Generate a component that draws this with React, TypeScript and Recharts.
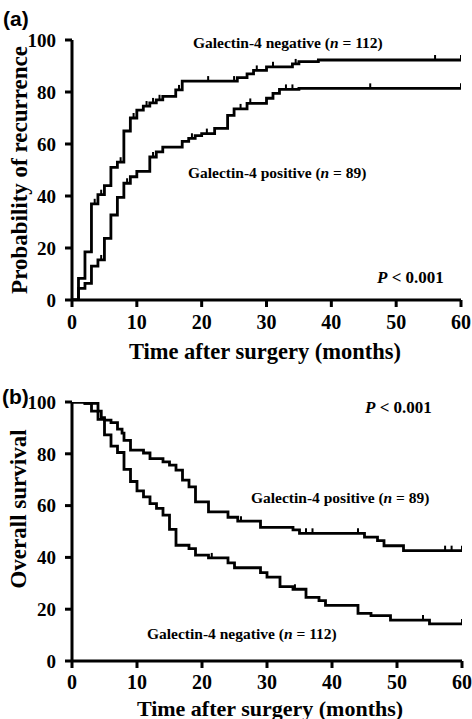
import React from 'react';
import { ComposedChart, Line, Scatter, XAxis, YAxis } from 'recharts';

// shared axis ticks
const monthTicks = [0, 10, 20, 30, 40, 50, 60];
const percentTicks = [0, 20, 40, 60, 80, 100];

// (a) probability of recurrence
const recNegMonths = [0, 1, 2, 3, 4, 5, 6, 7, 8, 9, 10, 11, 12, 13, 14, 16, 17, 25.5, 27, 28, 30, 34, 35, 38, 60];
const recNegValues = [0, 8.3, 18.5, 37, 40.5, 44, 51, 53, 65, 70, 73, 74.6, 75.8, 77, 78.3, 80.8, 84.2, 85.5, 87, 88.3, 89.7, 90.8, 91.7, 92.3, 92.3];
const recNegCensored = [3.5, 4.5, 7.5, 9.5, 11.5, 12.5, 13.5, 16.5, 21, 25, 28.5, 31, 34.5, 56, 60];

const recPosMonths = [0, 1, 2, 3, 4, 5, 6, 7, 8, 9, 10, 12, 13, 14, 17, 18, 19, 20, 22, 24, 25, 27, 30, 31, 32, 35, 60];
const recPosValues = [0, 4.5, 6.4, 13, 15.4, 23.7, 32.7, 39.5, 44.9, 47.4, 49.5, 55, 57, 58.8, 61, 62.2, 63.2, 64, 66, 71, 73.5, 75.6, 77.6, 79.5, 81, 81.4, 81.4];
const recPosCensored = [4.5, 8.5, 12.5, 18.5, 20.8, 26, 27.5, 33, 34, 46, 60];

// (b) overall survival
const osNegMonths = [0, 2, 3, 4, 5, 6, 7, 8, 9, 10, 11, 12, 13, 14, 15, 16, 18, 19, 21, 24, 25, 29, 30, 32, 34, 36, 38, 39, 44, 46, 49, 55, 60];
const osNegValues = [100, 99.5, 96.5, 93.3, 87.3, 83, 80.5, 74, 69.3, 65.7, 63.4, 60.8, 58.9, 56.3, 50.8, 44.7, 43.4, 40.9, 39.8, 37.9, 36, 34.1, 32.4, 28.7, 27.7, 24.6, 23.3, 21.5, 18.4, 17.5, 15.8, 14.3, 14.3];
const osNegCensored = [21.5, 34.3, 54, 60];

const osPosMonths = [0, 2, 4, 4.5, 5, 6, 7, 7.7, 8, 9, 11, 12, 14, 15, 16, 17, 18, 19, 21, 24, 25.5, 29, 34, 35, 45, 47, 48, 51, 60];
const osPosValues = [100, 99.5, 96.5, 94, 93, 92, 89.5, 88, 85.2, 81.4, 80.3, 78.1, 76.9, 75.6, 73.7, 69.8, 67.2, 61.4, 57.6, 55.5, 54, 51.6, 50.6, 49.3, 47.8, 46.5, 44.5, 42.6, 42.6];
const osPosCensored = [26, 36, 37, 44, 57.4, 58.4, 60];

const toSeries = (months: number[], values: number[]) =>
  months.map((t, i) => ({ t, v: values[i] }));

// value of the step curve at month x
const stepAt = (months: number[], values: number[], x: number) => {
  let v = values[0];
  months.forEach((t, i) => {
    if (t <= x) v = values[i];
  });
  return v;
};

const toCensor = (months: number[], values: number[], marks: number[]) =>
  marks.map((t) => ({ t, v: stepAt(months, values, t) }));

const serif = '"Liberation Serif", "Times New Roman", serif';
const tickFont = { fill: '#000', fontSize: 19, fontWeight: 'bold', fontFamily: serif };
const axisStroke = { stroke: '#000', strokeWidth: 3 };

const CensorMark = (props: any) => {
  const { cx, cy } = props;
  if (cx == null || cy == null) return null;
  return <line x1={cx} y1={cy} x2={cx} y2={cy - 5} stroke="#000" strokeWidth={2} />;
};

type PanelProps = {
  top: number;
  height: number;
  marginTop: number;
  marginRight: number;
  xAxisHeight: number;
  xTickMargin: number;
  curves: { months: number[]; values: number[]; censored: number[] }[];
};

const KmPanel: React.FC<PanelProps> = ({ top, height, marginTop, marginRight, xAxisHeight, xTickMargin, curves }) => (
  <div style={{ position: 'absolute', left: 0, top }}>
    <ComposedChart width={472} height={height} margin={{ top: marginTop, right: marginRight, bottom: 0, left: 0 }}>
      <XAxis
        dataKey="t"
        type="number"
        domain={[0, 60]}
        ticks={monthTicks}
        interval={0}
        height={xAxisHeight}
        tick={{ ...tickFont, fontSize: 20 }}
        tickSize={7}
        tickMargin={xTickMargin}
        axisLine={axisStroke}
        tickLine={axisStroke}
        allowDataOverflow
      />
      <YAxis
        dataKey="v"
        type="number"
        domain={[0, 100]}
        ticks={percentTicks}
        interval={0}
        width={72}
        tick={tickFont}
        tickSize={7}
        tickMargin={9}
        axisLine={axisStroke}
        tickLine={axisStroke}
        allowDataOverflow
      />
      {curves.map((c, i) => (
        <Line
          key={`line-${i}`}
          data={toSeries(c.months, c.values)}
          dataKey="v"
          type="stepAfter"
          stroke="#000"
          strokeWidth={2.8}
          dot={false}
          isAnimationActive={false}
        />
      ))}
      {curves.map((c, i) => (
        <Scatter
          key={`censor-${i}`}
          data={toCensor(c.months, c.values, c.censored)}
          dataKey="v"
          shape={CensorMark}
          isAnimationActive={false}
        />
      ))}
    </ComposedChart>
  </div>
);

const GroupLabel = ({ x, y, kind, n }: { x: number; y: number; kind: string; n: number }) => (
  <text x={x} y={y} fontSize={15.5} fontWeight="bold" fontFamily={serif} dominantBaseline="central">
    Galectin-4 {kind} (<tspan fontStyle="italic">n</tspan> = {n})
  </text>
);

const PValue = ({ x, y }: { x: number; y: number }) => (
  <text x={x} y={y} fontSize={17} fontWeight="bold" fontFamily={serif} dominantBaseline="central">
    <tspan fontStyle="italic">P</tspan> {'<'} 0.001
  </text>
);

export default function App() {
  return (
    <div style={{ position: 'absolute', left: 0, top: 0, width: 472, height: 719, background: '#fff' }}>
      <KmPanel
        top={0}
        height={362}
        marginTop={40}
        marginRight={11}
        xAxisHeight={62}
        xTickMargin={8}
        curves={[
          { months: recNegMonths, values: recNegValues, censored: recNegCensored },
          { months: recPosMonths, values: recPosValues, censored: recPosCensored },
        ]}
      />
      <KmPanel
        top={380}
        height={339}
        marginTop={22}
        marginRight={10}
        xAxisHeight={58}
        xTickMargin={7}
        curves={[
          { months: osNegMonths, values: osNegValues, censored: osNegCensored },
          { months: osPosMonths, values: osPosValues, censored: osPosCensored },
        ]}
      />
      <svg width={472} height={719} style={{ position: 'absolute', left: 0, top: 0, pointerEvents: 'none' }}>
        {/* panel (a) */}
        <text x={3} y={18} fontSize={21} fontWeight="bold" fontFamily='"Liberation Sans", Arial, sans-serif' dominantBaseline="central">(a)</text>
        <text x={19} y={170} transform="rotate(-90 19 170)" textAnchor="middle" fontSize={23} fontWeight="bold" fontFamily={serif} dominantBaseline="central">
          Probability of recurrence
        </text>
        <text x={265} y={351} textAnchor="middle" fontSize={22.5} fontWeight="bold" fontFamily={serif} dominantBaseline="central">
          Time after surgery (months)
        </text>
        <GroupLabel x={193} y={42} kind="negative" n={112} />
        <GroupLabel x={188} y={172} kind="positive" n={89} />
        <PValue x={377} y={277} />

        {/* panel (b) */}
        <text x={2} y={396} fontSize={21} fontWeight="bold" fontFamily='"Liberation Sans", Arial, sans-serif' dominantBaseline="central">(b)</text>
        <text x={18} y={509} transform="rotate(-90 18 509)" textAnchor="middle" fontSize={23} fontWeight="bold" fontFamily={serif} dominantBaseline="central">
          Overall survival
        </text>
        <text x={270} y={708} textAnchor="middle" fontSize={22} fontWeight="bold" fontFamily={serif} dominantBaseline="central">
          Time after surgery (months)
        </text>
        <PValue x={365} y={407} />
        <GroupLabel x={251} y={497} kind="positive" n={89} />
        <GroupLabel x={147} y={633} kind="negative" n={112} />
      </svg>
    </div>
  );
}
